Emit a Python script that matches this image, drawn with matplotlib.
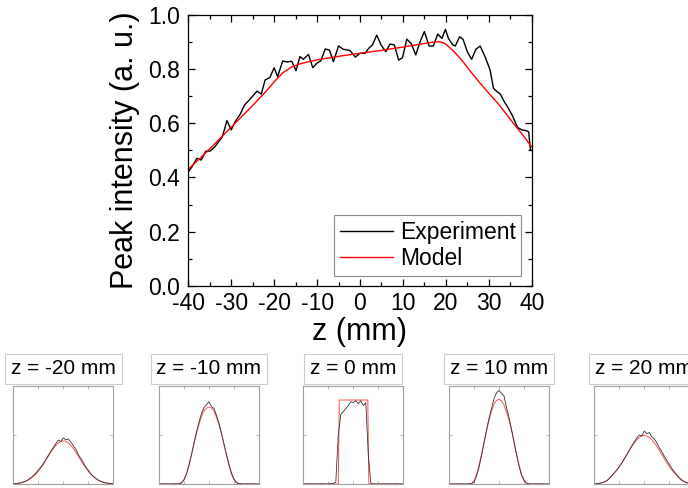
import matplotlib
matplotlib.use("Agg")
import matplotlib.pyplot as plt
from matplotlib.ticker import MultipleLocator, FormatStrFormatter

plt.rcParams['font.family'] = ['Liberation Sans', 'DejaVu Sans']
plt.rcParams['axes.unicode_minus'] = False

# ---------------- main chart data ----------------
EXP_Z = [-40.0, -39.1, -38.0, -37.0, -35.9, -34.9, -33.8, -33.0, -32.1, -31.0,
         -30.0, -29.1, -27.9, -26.9, -25.8, -24.8, -24.0, -23.0, -22.1, -21.0,
         -20.0, -19.2, -18.0, -17.0, -15.9, -14.9, -14.0, -13.2, -12.0, -11.0,
         -10.1, -9.1, -8.1, -7.1, -6.2, -5.0, -3.9, -2.3, -1.1, 0.0,
         1.2, 2.0, 2.9, 3.9, 4.9, 6.0, 7.0, 8.0, 9.0, 9.9,
         10.9, 11.9, 13.0, 14.0, 15.0, 16.1, 17.1, 18.1, 19.1, 19.9,
         20.6, 21.6, 22.2, 23.2, 24.0, 25.0, 26.0, 27.0, 28.0, 29.2,
         30.3, 31.1, 31.9, 32.7, 33.6, 34.6, 35.6, 36.7, 37.7, 38.7,
         39.3, 39.7, 40.0]
EXP_I = [0.42, 0.44, 0.47, 0.464, 0.497, 0.497, 0.513, 0.53, 0.548, 0.609,
         0.575, 0.605, 0.633, 0.667, 0.685, 0.703, 0.718, 0.707, 0.759, 0.768,
         0.804, 0.771, 0.829, 0.825, 0.828, 0.793, 0.845, 0.835, 0.853, 0.804,
         0.82, 0.83, 0.873, 0.869, 0.826, 0.884, 0.872, 0.867, 0.843, 0.857,
         0.857, 0.875, 0.888, 0.924, 0.888, 0.863, 0.891, 0.888, 0.832, 0.841,
         0.909, 0.894, 0.851, 0.90, 0.937, 0.884, 0.884, 0.928, 0.912, 0.945,
         0.912, 0.888, 0.884, 0.918, 0.909, 0.863, 0.835, 0.872, 0.884, 0.842,
         0.796, 0.728, 0.716, 0.707, 0.679, 0.654, 0.624, 0.584, 0.575, 0.572,
         0.568, 0.501, 0.50]

MODEL_Z = [-40, -37.5, -35, -32.5, -30, -27.5, -25, -22, -20, -18, -16, -14, -12,
           -10, -5, 0, 5, 10, 15, 17, 18, 19, 20, 22, 24, 26, 28, 30, 32, 34, 36,
           38, 40]
MODEL_I = [0.43, 0.467, 0.505, 0.545, 0.585, 0.625, 0.665, 0.715, 0.752, 0.785,
           0.806, 0.818, 0.826, 0.833, 0.846, 0.857, 0.868, 0.880, 0.893, 0.898,
           0.900, 0.898, 0.891, 0.862, 0.826, 0.785, 0.747, 0.710, 0.675, 0.635,
           0.594, 0.555, 0.512]

XTICKS = [-40, -30, -20, -10, 0, 10, 20, 30, 40]
YTICKS = [0.0, 0.2, 0.4, 0.6, 0.8, 1.0]

# ---------------- inset profile data ----------------
INSET_TITLES = ["z = -20 mm", "z = -10 mm", "z = 0 mm", "z = 10 mm", "z = 20 mm"]

PROFILE_X = [-1.0, -0.95, -0.9, -0.85, -0.8, -0.75, -0.7, -0.65, -0.6, -0.55,
             -0.5, -0.45, -0.4, -0.35, -0.3, -0.25, -0.2, -0.15, -0.1, -0.05,
             0.0, 0.05, 0.1, 0.15, 0.2, 0.25, 0.3, 0.35, 0.4, 0.45,
             0.5, 0.55, 0.6, 0.65, 0.7, 0.75, 0.8, 0.85, 0.9, 0.95, 1.0]

M20_MODEL = [0.003, 0.005, 0.008, 0.013, 0.019, 0.028, 0.040, 0.056, 0.076, 0.100,
             0.130, 0.164, 0.201, 0.242, 0.284, 0.324, 0.362, 0.394, 0.419, 0.435,
             0.440, 0.435, 0.419, 0.394, 0.362, 0.324, 0.284, 0.242, 0.201, 0.164,
             0.130, 0.100, 0.076, 0.056, 0.040, 0.028, 0.019, 0.013, 0.008, 0.005, 0.003]
M20_EXP = [0.002, 0.004, 0.007, 0.012, 0.020, 0.030, 0.045, 0.064, 0.086, 0.112,
           0.142, 0.172, 0.208, 0.250, 0.292, 0.336, 0.372, 0.410, 0.448, 0.432,
           0.470, 0.452, 0.460, 0.428, 0.392, 0.355, 0.300, 0.262, 0.218, 0.175,
           0.140, 0.104, 0.078, 0.056, 0.038, 0.026, 0.017, 0.011, 0.007, 0.004, 0.002]

M10_MODEL = [0, 0, 0, 0, 0, 0, 0, 0, 0.0, 0.01,
             0.04, 0.11, 0.20, 0.30, 0.41, 0.52, 0.61, 0.69, 0.745, 0.775,
             0.785, 0.775, 0.745, 0.68, 0.60, 0.51, 0.40, 0.29, 0.19, 0.10,
             0.045, 0.012, 0.0, 0, 0, 0, 0, 0, 0, 0, 0]
M10_EXP = [0.0, 0.001, 0.0, 0.002, 0.0, 0.001, 0.002, 0.001, 0.003, 0.012,
           0.045, 0.10, 0.19, 0.30, 0.42, 0.53, 0.63, 0.72, 0.78, 0.81,
           0.84, 0.79, 0.77, 0.70, 0.62, 0.52, 0.41, 0.30, 0.20, 0.11,
           0.05, 0.015, 0.004, 0.002, 0.0, 0.001, 0.002, 0.0, 0.001, 0.0, 0.001]

Z0_MODEL_X = [-1.0, -0.30, -0.28, 0.29, 0.31, 1.0]
Z0_MODEL = [0.0, 0.0, 0.857, 0.857, 0.0, 0.0]
Z0_EXP = [0.0, 0.001, 0.0, 0.002, 0.0, 0.001, 0.0, 0.002, 0.001, 0.0,
          0.001, 0.002, 0.004, 0.02, 0.50, 0.71, 0.74, 0.77, 0.80, 0.84,
          0.83, 0.85, 0.82, 0.85, 0.80, 0.83, 0.30, 0.01, 0.002, 0.0,
          0.001, 0.0, 0.002, 0.001, 0.0, 0.001, 0.0, 0.002, 0.0, 0.001, 0.0]

P10_MODEL = [0, 0, 0, 0, 0, 0, 0, 0, 0, 0.005,
             0.03, 0.10, 0.19, 0.30, 0.42, 0.54, 0.65, 0.745, 0.815, 0.853,
             0.864, 0.85, 0.805, 0.735, 0.65, 0.55, 0.43, 0.31, 0.195, 0.10,
             0.045, 0.01, 0, 0, 0, 0, 0, 0, 0, 0, 0]
P10_EXP = [0.0, 0.001, 0.0, 0.002, 0.0, 0.001, 0.0, 0.001, 0.002, 0.003,
           0.02, 0.08, 0.17, 0.29, 0.42, 0.55, 0.67, 0.77, 0.87, 0.93,
           0.955, 0.925, 0.90, 0.78, 0.68, 0.56, 0.43, 0.30, 0.185, 0.09,
           0.035, 0.008, 0.002, 0.0, 0.001, 0.0, 0.002, 0.0, 0.001, 0.0, 0.0]

P20_MODEL = [0.002, 0.004, 0.008, 0.013, 0.022, 0.035, 0.058, 0.085, 0.114, 0.144,
             0.178, 0.216, 0.258, 0.300, 0.343, 0.384, 0.420, 0.452, 0.475, 0.490,
             0.495, 0.490, 0.475, 0.452, 0.420, 0.384, 0.343, 0.300, 0.258, 0.216,
             0.178, 0.144, 0.114, 0.085, 0.058, 0.035, 0.022, 0.013, 0.008, 0.004, 0.002]
P20_EXP = [0.001, 0.003, 0.006, 0.011, 0.020, 0.033, 0.055, 0.083, 0.112, 0.142,
           0.176, 0.214, 0.256, 0.298, 0.343, 0.390, 0.430, 0.470, 0.500, 0.490,
           0.540, 0.515, 0.525, 0.480, 0.460, 0.420, 0.370, 0.330, 0.285, 0.240,
           0.200, 0.160, 0.125, 0.093, 0.065, 0.042, 0.025, 0.014, 0.008, 0.004, 0.002]

INSET_MODEL_X = [PROFILE_X, PROFILE_X, Z0_MODEL_X, PROFILE_X, PROFILE_X]
INSET_MODEL = [M20_MODEL, M10_MODEL, Z0_MODEL, P10_MODEL, P20_MODEL]
INSET_EXP = [M20_EXP, M10_EXP, Z0_EXP, P10_EXP, P20_EXP]

# ---------------- figure ----------------
W, H = 688, 488
fig = plt.figure(figsize=(W / 100, H / 100), dpi=100)

def px_axes(left, top, right, bottom):
    return fig.add_axes([left / W, 1 - bottom / H, (right - left) / W, (bottom - top) / H])

ax = px_axes(188.3, 14.5, 531.7, 286)
ax.plot(EXP_Z, EXP_I, color='black', lw=1.0, label='Experiment')
ax.plot(MODEL_Z, MODEL_I, color='#ff0000', lw=1.0, label='Model')
ax.set_xlim(-40, 40)
ax.set_ylim(0, 1.0)
ax.set_xticks(XTICKS)
ax.set_yticks(YTICKS)
ax.xaxis.set_minor_locator(MultipleLocator(5))
ax.yaxis.set_minor_locator(MultipleLocator(0.1))
ax.yaxis.set_major_formatter(FormatStrFormatter('%.1f'))
ax.tick_params(which='both', direction='in', top=True, right=True, width=0.9)
ax.tick_params(which='major', length=5, labelsize=16.5)
ax.tick_params(axis='x', which='major', pad=4.5)
ax.tick_params(axis='y', which='major', pad=6)
ax.tick_params(which='minor', length=3)
for s in ax.spines.values():
    s.set_linewidth(0.9)
ax.set_xlabel('z (mm)', fontsize=22, labelpad=1)
ax.set_ylabel('Peak intensity (a. u.)', fontsize=22, labelpad=6)
leg = ax.legend(loc='lower right', fontsize=16.5, frameon=True, fancybox=False,
                edgecolor='#888888', framealpha=1, handlelength=2.3,
                handletextpad=0.3, labelspacing=0.15, borderaxespad=0.45,
                borderpad=0.25)
leg.get_frame().set_linewidth(0.8)

# ---------------- insets ----------------
INSET_LEFTS = [13.3, 159.0, 303.3, 449.0, 594.3]
for i, left in enumerate(INSET_LEFTS):
    iax = px_axes(left, 386, left + 100, 484)
    iax.plot(INSET_MODEL_X[i], INSET_MODEL[i], color='#ff5050', lw=0.7)
    iax.plot(PROFILE_X, INSET_EXP[i], color='#333333', lw=0.6)
    iax.set_xlim(-1, 1)
    iax.set_ylim(0, 1)
    iax.set_xticks([-0.5, 0, 0.5])
    iax.set_yticks([0.5])
    iax.tick_params(direction='in', length=2, width=0.5, colors='#999999',
                    top=True, right=True, labelbottom=False, labelleft=False)
    for s in iax.spines.values():
        s.set_color('#a0a0a0')
        s.set_linewidth(0.8)
    iax.text(0.5, 1.175, INSET_TITLES[i], transform=iax.transAxes,
             ha='center', va='center', fontsize=15, color='black',
             bbox=dict(boxstyle='square,pad=0.28', fc='white', ec='#cccccc', lw=0.8))

fig.savefig('out.png', dpi=100)
